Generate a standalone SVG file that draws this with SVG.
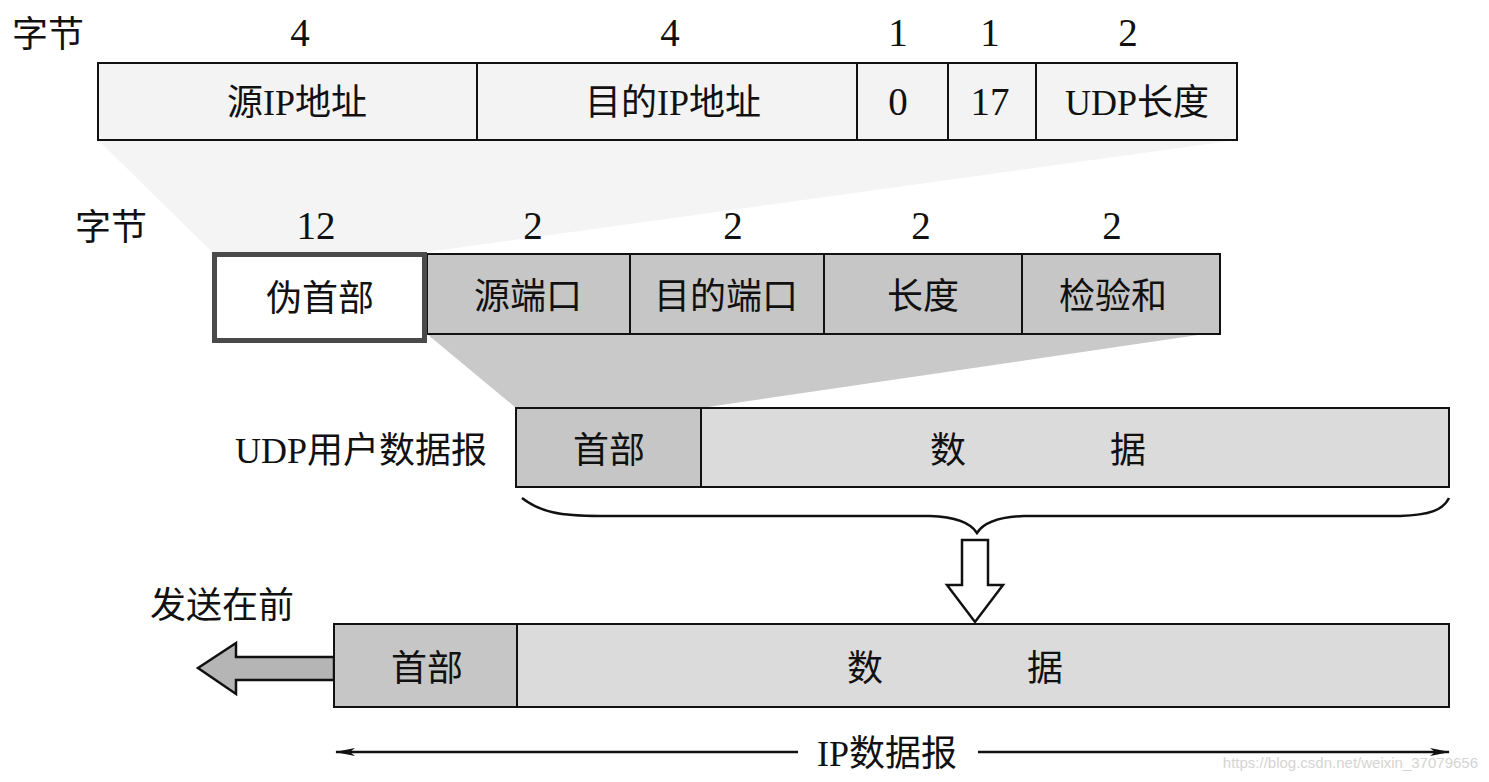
<svg xmlns="http://www.w3.org/2000/svg" width="1489" height="782" viewBox="0 0 1489 782">
<style>
.t{font-family:"Liberation Serif","Noto Sans CJK SC",serif;fill:#111;}
.c{text-anchor:middle;}
.lbl{font-size:36px;}
.num{font-size:39px;}
.box{stroke:#111;stroke-width:2;}
.light{fill:#f3f3f3;}
.mid{fill:#c6c6c6;}
.data{fill:#dbdbdb;}
</style>
<defs>
<marker id="barb" viewBox="0 0 20 10" refX="19" refY="5" markerWidth="20" markerHeight="10" markerUnits="userSpaceOnUse" orient="auto-start-reverse">
<path d="M0,1 L20,5 L0,9 L5,5 Z" fill="#111"/>
</marker>
</defs>
<rect width="1489" height="782" fill="#fff"/>

<g id="connectors">
<polygon id="fan-top" points="98,140 1237,140 427,252 212,252" fill="#f4f4f4"/>
<polygon id="fan-udp" points="427,334 1205,334 701,408 516,408" fill="#c9c9c9"/>
<path id="brace" d="M522,498 C540,512 560,516 600,516 L930,516 C960,517 972,525 977,533 C982,525 994,517 1024,516 L1400,516 C1430,515 1443,510 1449,498" fill="none" stroke="#111" stroke-width="2.5"/>
<polygon id="down-arrow" points="962,540 988,540 988,585 1003,585 975,622 947,585 962,585" fill="#fff" stroke="#111" stroke-width="2.5"/>
<polygon id="send-arrow" points="334,657 236,657 236,643 198,668 236,694 236,680 334,680" fill="#b5b5b5" stroke="#111" stroke-width="2.5"/>
<line x1="336" y1="752" x2="798" y2="752" stroke="#111" stroke-width="2.5" marker-start="url(#barb)"/>
<line x1="978" y1="752" x2="1449" y2="752" stroke="#111" stroke-width="2.5" marker-end="url(#barb)"/>
</g>

<g id="bytes-label-1">
<text class="t lbl" x="12" y="47">字节</text>
<text class="t num c" x="300" y="46">4</text>
<text class="t num c" x="670" y="46">4</text>
<text class="t num c" x="898" y="46">1</text>
<text class="t num c" x="990" y="46">1</text>
<text class="t num c" x="1128" y="46">2</text>
</g>

<g id="pseudo-fields">
<rect class="box light" x="98" y="63" width="1139" height="77"/>
<line class="box" x1="477" y1="63" x2="477" y2="140"/>
<line class="box" x1="857" y1="63" x2="857" y2="140"/>
<line class="box" x1="948" y1="63" x2="948" y2="140"/>
<line class="box" x1="1036" y1="63" x2="1036" y2="140"/>
<text class="t lbl c" x="297" y="115">源IP地址</text>
<text class="t lbl c" x="673" y="115">目的IP地址</text>
<text class="t num c" x="898" y="115">0</text>
<text class="t num c" x="990" y="115">17</text>
<text class="t lbl c" x="1137" y="115">UDP长度</text>
</g>

<g id="bytes-label-2">
<text class="t lbl" x="75" y="240">字节</text>
<text class="t num c" x="316" y="239">12</text>
<text class="t num c" x="533" y="239">2</text>
<text class="t num c" x="733" y="239">2</text>
<text class="t num c" x="921" y="239">2</text>
<text class="t num c" x="1112" y="239">2</text>
</g>

<g id="udp-header">
<rect class="box mid" x="427" y="254" width="793" height="80"/>
<line class="box" x1="630" y1="254" x2="630" y2="334"/>
<line class="box" x1="824" y1="254" x2="824" y2="334"/>
<line class="box" x1="1022" y1="254" x2="1022" y2="334"/>
<text class="t lbl c" x="528" y="309">源端口</text>
<text class="t lbl c" x="726" y="309">目的端口</text>
<text class="t lbl c" x="923" y="309">长度</text>
<text class="t lbl c" x="1113" y="309">检验和</text>
</g>

<g id="pseudo-header">
<rect x="214.5" y="254.5" width="210" height="86" fill="#fff" stroke="#4a4a4a" stroke-width="5"/>
<text class="t lbl c" x="320" y="311">伪首部</text>
</g>

<g id="udp-datagram">
<text class="t lbl" x="487" y="463" text-anchor="end">UDP用户数据报</text>
<rect class="box data" x="516" y="408" width="933" height="79"/>
<rect class="box mid" x="516" y="408" width="185" height="79"/>
<text class="t lbl c" x="609" y="463">首部</text>
<text class="t lbl c" x="948" y="463">数</text>
<text class="t lbl c" x="1128" y="463">据</text>
</g>

<g id="ip-datagram">
<text class="t lbl" x="150" y="618">发送在前</text>
<rect class="box data" x="334" y="624" width="1115" height="83"/>
<rect class="box mid" x="334" y="624" width="183" height="83"/>
<text class="t lbl c" x="427" y="681">首部</text>
<text class="t lbl c" x="865" y="681">数</text>
<text class="t lbl c" x="1045" y="681">据</text>
<text class="t lbl c" x="887" y="766">IP数据报</text>
</g>

<text x="1478" y="768" text-anchor="end" font-family="Liberation Sans, sans-serif" font-size="15" fill="#d4d4d4">https://blog.csdn.net/weixin_37079656</text>
</svg>
